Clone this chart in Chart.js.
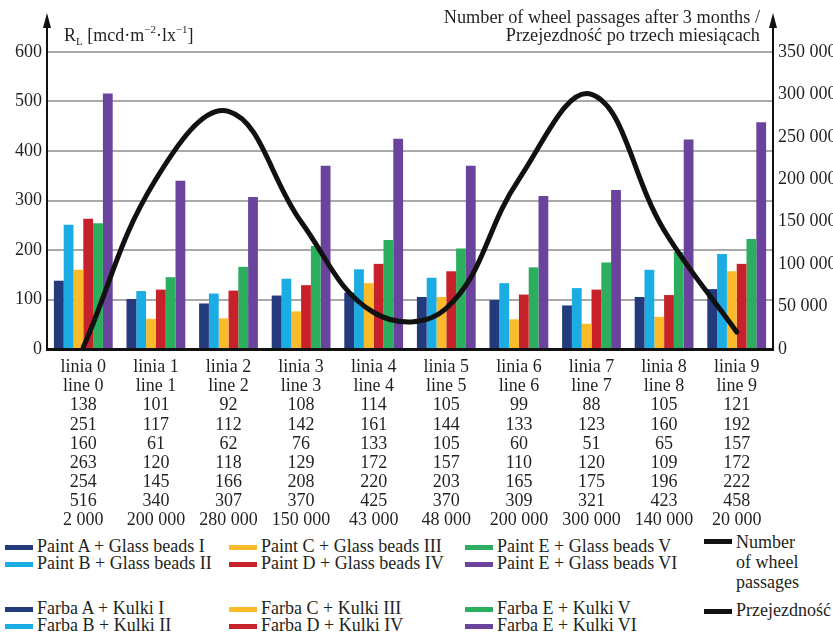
<!DOCTYPE html>
<html>
<head>
<meta charset="utf-8">
<script src="https://cdn.jsdelivr.net/npm/chart.js@4"></script>
<style>
  body { margin: 0; background: #fff; width: 833px; height: 635px; overflow: hidden; position: relative; }
  #wrap { position: absolute; left: 0; top: 0; width: 833px; height: 530px; }
  .leg { position: absolute; font: 18px "Liberation Serif", serif; color: #231f20; white-space: nowrap; line-height: 17px; }
  .sw { position: absolute; width: 28px; height: 5px; }
</style>
</head>
<body>
<div id="wrap"><canvas id="chart" width="833" height="530"></canvas></div>
<div id="legend"></div>
<script>
// Categories
const linesPl = ["linia 0", "linia 1", "linia 2", "linia 3", "linia 4", "linia 5", "linia 6", "linia 7", "linia 8", "linia 9"];
const linesEn = ["line 0", "line 1", "line 2", "line 3", "line 4", "line 5", "line 6", "line 7", "line 8", "line 9"];

// Retroreflection R_L per material
const paintA_I   = [138, 101, 92, 108, 114, 105, 99, 88, 105, 121];
const paintB_II  = [251, 117, 112, 142, 161, 144, 133, 123, 160, 192];
const paintC_III = [160, 61, 62, 76, 133, 105, 60, 51, 65, 157];
const paintD_IV  = [263, 120, 118, 129, 172, 157, 110, 120, 109, 172];
const paintE_V   = [254, 145, 166, 208, 220, 203, 165, 175, 196, 222];
const paintE_VI  = [516, 340, 307, 370, 425, 370, 309, 321, 423, 458];

// Number of wheel passages after 3 months
const passages = [2000, 200000, 280000, 150000, 43000, 48000, 200000, 300000, 140000, 20000];

const namesEn = ["Paint A + Glass beads I", "Paint B + Glass beads II", "Paint C + Glass beads III",
                 "Paint D + Glass beads IV", "Paint E + Glass beads V", "Paint E + Glass beads VI"];
const namesPl = ["Farba A + Kulki I", "Farba B + Kulki II", "Farba C + Kulki III",
                 "Farba D + Kulki IV", "Farba E + Kulki V", "Farba E + Kulki VI"];
const colors = ["#233a7c", "#1aace3", "#fbba2a", "#c7222a", "#2bae5e", "#6a449c"];

const series = [paintA_I, paintB_II, paintC_III, paintD_IV, paintE_V, paintE_VI];
const TEXT = "#231f20";
const FONT = '"Liberation Serif", serif';

function fmt(n) {
    return String(n).replace(/\B(?=(\d{3})+(?!\d))/g, " ");
}

// Tick labels hold the data table under each group
const labels = linesPl.map((p, i) => [p, linesEn[i]]
    .concat(series.map(s => String(s[i])))
    .concat([fmt(passages[i])]));

const datasets = series.map((s, k) => ({
    type: "bar",
    label: namesEn[k],
    data: s,
    backgroundColor: colors[k],
    yAxisID: "y",
    order: 1,
    categoryPercentage: 0.81,
    barPercentage: 1.0,
}));
datasets.push({
    type: "line",
    label: "Number of wheel passages",
    data: passages,
    borderColor: "#111",
    borderWidth: 5,
    pointRadius: 0,
    tension: 0.4,
    fill: false,
    yAxisID: "y2",
    order: 0,
    borderCapStyle: "round",
    clip: false,
});

// Axis arrows and axis titles
const decorations = {
    id: "decorations",
    afterDraw(chart) {
        const ctx = chart.ctx;
        const a = chart.chartArea;
        ctx.save();
        ctx.strokeStyle = "#111";
        ctx.fillStyle = "#111";
        ctx.lineWidth = 2;
        [a.left, a.right].forEach(x => {
            ctx.beginPath();
            ctx.moveTo(x, a.top);
            ctx.lineTo(x, 24);
            ctx.stroke();
            ctx.beginPath();
            ctx.moveTo(x, 13);
            ctx.lineTo(x - 4, 28);
            ctx.lineTo(x + 4, 28);
            ctx.closePath();
            ctx.fill();
        });

        ctx.fillStyle = TEXT;
        ctx.textBaseline = "alphabetic";
        // Left title: R_L [mcd·m^-2·lx^-1]
        let x = 64;
        const y = 41;
        const part = (t, size, dy) => {
            ctx.font = size + "px " + FONT;
            ctx.fillText(t, x, y + dy);
            x += ctx.measureText(t).width;
        };
        part("R", 18, 0);
        part("L", 11, 4);
        part(" [mcd·m", 18, 0);
        part("\u22122", 11, -8);
        part("·lx", 18, 0);
        part("\u22121", 11, -8);
        part("]", 18, 0);

        // Right title
        ctx.font = "18.3px " + FONT;
        ctx.textAlign = "right";
        ctx.fillText("Number of wheel passages after 3 months /", 760, 23);
        ctx.fillText("Przejezdność po trzech miesiącach", 760, 41);
        ctx.restore();
    }
};

new Chart(document.getElementById("chart"), {
    data: { labels: labels, datasets: datasets },
    plugins: [decorations],
    options: {
        responsive: false,
        animation: false,
        layout: { padding: { top: 52, left: 0, right: 0, bottom: 0 } },
        plugins: {
            legend: { display: false },
            tooltip: { enabled: false },
        },
        scales: {
            x: {
                grid: { display: false, drawTicks: false },
                border: { color: "#111", width: 3 },
                ticks: {
                    color: TEXT,
                    font: { family: FONT, size: 18, lineHeight: 1.06 },
                    padding: 9,
                    maxRotation: 0,
                    autoSkip: false,
                },
                afterFit: s => { s.height = 181; },
            },
            y: {
                position: "left",
                min: 0,
                max: 600,
                ticks: {
                    stepSize: 100,
                    color: TEXT,
                    font: { family: FONT, size: 18 },
                    padding: 5,
                },
                grid: { color: "#a9a9a9", lineWidth: 2, drawTicks: false },
                border: { color: "#111", width: 2 },
                afterFit: s => { s.width = 47; },
            },
            y2: {
                position: "right",
                min: 0,
                max: 350000,
                ticks: {
                    stepSize: 50000,
                    color: TEXT,
                    font: { family: FONT, size: 18 },
                    padding: 5,
                    callback: v => fmt(v),
                },
                grid: { display: false, drawTicks: false },
                border: { color: "#111", width: 2 },
                afterFit: s => { s.width = 60; },
            },
        },
    },
});

// Legend (English block, Polish block)
const legend = document.getElementById("legend");
const colX = [5, 229, 465];
function addEntry(swColor, text, sx, y, lh) {
    const sw = document.createElement("div");
    sw.className = "sw";
    sw.style.left = sx + "px";
    sw.style.top = (y + 6) + "px";
    sw.style.background = swColor;
    legend.appendChild(sw);
    const t = document.createElement("div");
    t.className = "leg";
    t.style.left = (sx + 32) + "px";
    t.style.top = (y - 1) + "px";
    if (lh) t.style.lineHeight = lh + "px";
    t.innerHTML = text;
    legend.appendChild(t);
}
[namesEn, namesPl].forEach((names, b) => {
    const top = b === 0 ? 539 : 601;
    names.forEach((n, k) => {
        addEntry(colors[k], n, colX[Math.floor(k / 2)], top + (k % 2) * 17);
    });
});
addEntry("#111", "Number<br>of wheel<br>passages", 704, 533, 20);
addEntry("#111", "Przejezdność", 704, 603);
</script>
</body>
</html>
